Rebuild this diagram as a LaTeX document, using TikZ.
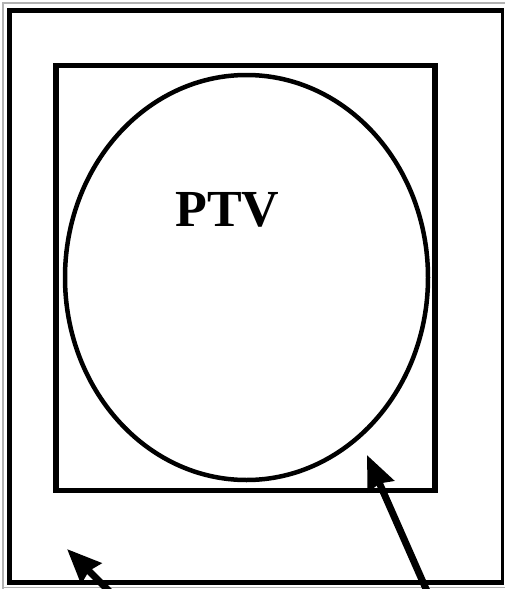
\documentclass[tikz,border=0pt]{standalone}
\usepackage{fontspec}
\setmainfont{Liberation Serif}
\usetikzlibrary{arrows.meta,shapes.geometric}
\begin{document}
\begin{tikzpicture}[x=1pt,y=-1pt,
  edgeline/.style={draw=gray!60,line width=1.5pt},
  framebox/.style={draw=black,line width=5.5pt,inner sep=0pt,outer sep=0pt},
  zone/.style={ellipse,draw=black,line width=4.5pt,inner sep=0pt,outer sep=0pt},
  pointer/.style={line width=7pt,-{Stealth[length=34pt,width=28pt,inset=3pt]}}]
\useasboundingbox (0,0) rectangle (505,589);
\clip (0,0) rectangle (505,589);
\fill[white] (0,0) rectangle (505,589);
% thin gray page edge
\draw[edgeline] (3,589) -- (3,3) -- (505,3);
\draw[edgeline] (3,587.5) -- (505,587.5);
% outer frame
\draw[line width=5pt] (504,10) -- (9.5,10) -- (9.5,582.5) -- (504,582.5);
\draw[line width=3pt] (502,8) -- (502,585);
% inner box and PTV ellipse
\node[framebox,minimum width=379pt,minimum height=425pt] (inner) at (245.5,278) {};
\node[zone,minimum width=363pt,minimum height=405pt] (ptvzone) at (246.5,277.5) {};
\node[anchor=base,inner sep=0pt,font=\bfseries\fontsize{52}{52}\selectfont] (ptv) at (227.5,226) {PTV};
% arrows
\coordinate (a1s) at (116,598);
\coordinate (a1t) at (67,549);
\coordinate (a2s) at (430,598);
\coordinate (a2t) at (367,455);
\draw[pointer] (a1s) -- (a1t);
\draw[pointer] (a2s) -- (a2t);
\end{tikzpicture}
\end{document}
